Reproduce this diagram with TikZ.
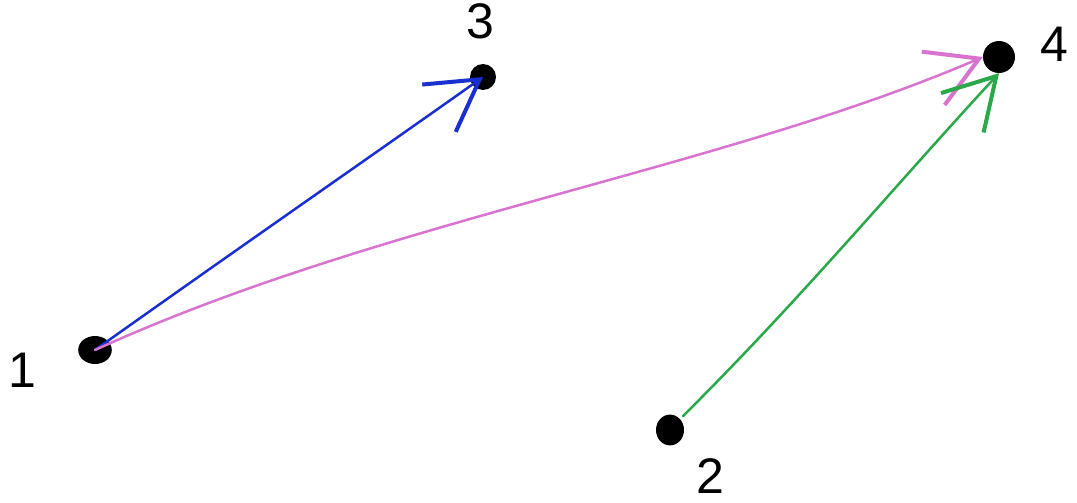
\documentclass[tikz,border=0pt]{standalone}
\usepackage{fontspec}
\setmainfont{Liberation Sans}
\usetikzlibrary{arrows.meta}
\definecolor{pblue}{HTML}{1A2FD0}
\definecolor{ppink}{HTML}{D873D0}
\definecolor{pgreen}{HTML}{2AA84A}
\begin{document}
\begin{tikzpicture}[x=1pt,y=-1pt,
  dot/.style={circle,fill=black,inner sep=0pt,minimum size=#1},
  lbl/.style={font=\fontsize{50}{50}\selectfont,inner sep=0pt},
  edge/.style={line width=2.5pt,line cap=round,
    -{Straight Barb[length=50pt,width=58pt,line width=4pt]}}]
\useasboundingbox (0,0) rectangle (1077,503);
\node[dot=28pt,xscale=1.2] (n1) at (95,350) {};
\node[dot=26pt] (n3) at (483,77) {};
\node[dot=32pt] (n4) at (999,57) {};
\node[dot=28pt,yscale=1.1] (n2) at (670,430) {};
\node[lbl] (l1) at (22,370) {1};
\node[lbl] (l3) at (480,21) {3};
\node[lbl] (l4) at (1054,44) {4};
\node[lbl] (l2) at (710,476) {2};
\draw[edge,pblue] (n1.center) .. controls (250,240) and (380,150) .. (n3.center);
\draw[edge,ppink] (n1.center) .. controls (380,220) and (720,170) .. (n4.west);
\draw[edge,pgreen,shorten <=4pt] (n2.north east) .. controls (800,300) and (900,180) .. (n4.south);
\end{tikzpicture}
\end{document}
